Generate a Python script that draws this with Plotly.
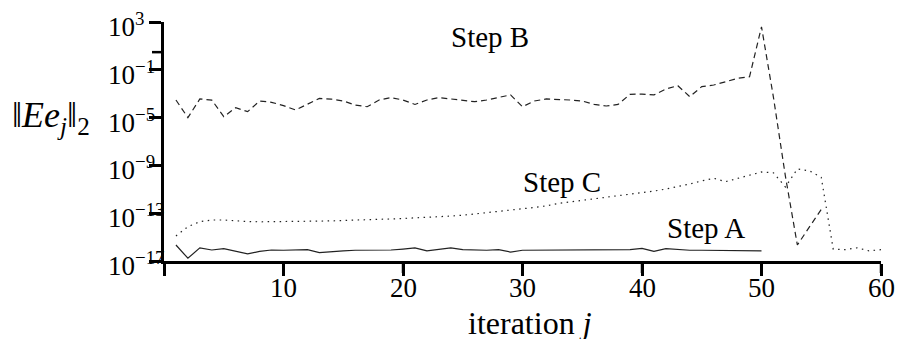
import numpy as np
import plotly.graph_objects as go

# log10 of ||E e_j||_2
step_a_j = list(range(1, 51))
step_a_log = [-15.66, -16.77, -15.90, -16.08, -15.97, -16.20, -16.40, -16.20, -16.08, -16.10,
              -16.05, -16.05, -16.30, -16.20, -16.15, -16.10, -16.10, -16.05, -16.08, -16.00,
              -15.90, -16.15, -16.05, -15.90, -16.05, -16.10, -16.10, -16.05, -16.25, -16.10,
              -16.10, -16.05, -16.10, -16.10, -16.08, -16.05, -16.10, -16.10, -16.05, -15.95,
              -16.20, -15.97, -16.05, -16.10, -16.10, -16.10, -16.10, -16.12, -16.10, -16.15]

step_b_j = list(range(1, 56))
step_b_log = [-3.53, -5.00, -3.44, -3.53, -4.92, -4.17, -4.50, -3.61, -3.72, -4.00,
              -4.36, -3.90, -3.40, -3.45, -3.61, -3.95, -4.09, -3.53, -3.33, -3.53,
              -3.90, -3.53, -3.33, -3.44, -3.53, -3.67, -3.53, -3.33, -3.10, -4.09,
              -3.61, -3.44, -3.47, -3.53, -3.61, -3.90, -4.03, -3.90, -3.05, -3.03,
              -3.10, -2.61, -2.33, -3.25, -2.41, -2.27, -2.00, -1.71, -1.58, 2.60,
              -3.30, -9.90, -15.66, -14.13, -12.68]

step_c_j = list(range(1, 61))
step_c_log = [-14.90, -14.13, -13.71, -13.57, -13.57, -13.65, -13.70, -13.72, -13.72, -13.72,
              -13.70, -13.68, -13.66, -13.64, -13.62, -13.59, -13.56, -13.52, -13.48, -13.44,
              -13.40, -13.35, -13.30, -13.24, -13.17, -13.07, -12.98, -12.88, -12.77, -12.65,
              -12.52, -12.38, -12.18, -12.05, -11.92, -11.80, -11.68, -11.56, -11.44, -11.30,
              -11.15, -10.98, -10.78, -10.55, -10.30, -10.08, -10.36, -10.10, -9.80, -9.55,
              -9.62, -10.80, -9.30, -9.45, -10.00, -16.00, -16.05, -15.90, -16.15, -16.05]

x_tick_vals = [0, 10, 20, 30, 40, 50, 60]
x_tick_text = ["", "10", "20", "30", "40", "50", "60"]
y_tick_exp = [3, -1, -5, -9, -13, -17]

FONT = "Liberation Serif"
FS = 29
TFS = 27
PLOT_W = 899 - 164 - 18
PLOT_H = 339 - 22 - 78
TICK = 12

fig = go.Figure()
fig.add_trace(go.Scatter(x=step_a_j, y=10.0 ** np.array(step_a_log), mode="lines",
                         line=dict(color="#222", width=1.2), name="Step A"))
fig.add_trace(go.Scatter(x=step_b_j, y=10.0 ** np.array(step_b_log), mode="lines",
                         line=dict(color="#222", width=1.2, dash="6px,4px"), name="Step B"))
fig.add_trace(go.Scatter(x=step_c_j, y=10.0 ** np.array(step_c_log), mode="lines",
                         line=dict(color="#222", width=1.2, dash="1.5px,4.5px"), name="Step C"))

annots = []
shapes = []
# x tick labels and tick marks
for v, t in zip(x_tick_vals, x_tick_text):
    shapes.append(dict(type="line", xref="x", yref="paper", x0=v, x1=v,
                       y0=0, y1=-TICK / PLOT_H, line=dict(color="black", width=2.5)))
    if t:
        annots.append(dict(text=t, x=v, y=-0.111, xref="x", yref="paper",
                           xanchor="center", yanchor="middle", showarrow=False,
                           font=dict(family=FONT, size=TFS)))
# y tick labels and tick marks
for e in y_tick_exp:
    shapes.append(dict(type="line", xref="paper", yref="y", x0=0, x1=-TICK / PLOT_W,
                       y0=e, y1=e, line=dict(color="black", width=2.5)))
    annots.append(dict(text="10<sup>%s</sup>" % str(e).replace("-", "\u2212"),
                       x=-0.0809, y=e, xref="paper", yref="y",
                       xanchor="left", yanchor="middle", yshift=-3, showarrow=False,
                       font=dict(family=FONT, size=TFS)))

annots += [
    dict(text="Step B", x=27.3, y=1.72, xref="x", yref="y", showarrow=False,
         font=dict(family=FONT, size=FS)),
    dict(text="Step C", x=33.3, y=-10.39, xref="x", yref="y", showarrow=False,
         font=dict(family=FONT, size=FS)),
    dict(text="Step A", x=45.35, y=-14.24, xref="x", yref="y", showarrow=False,
         font=dict(family=FONT, size=FS)),
    dict(text="iteration <i>j</i>", x=0.51, y=-0.259, xref="paper", yref="paper",
         yanchor="middle", showarrow=False, font=dict(family=FONT, size=32)),
    dict(text="\u2016<i>Ee</i><sub><i>j</i></sub>\u2016<sub>2</sub>", x=-0.215, y=0.6025,
         xref="paper", yref="paper", xanchor="left", yanchor="middle", showarrow=False,
         font=dict(family=FONT, size=36)),
]

fig.update_layout(
    width=899, height=339,
    margin=dict(l=164, r=18, t=22, b=78),
    plot_bgcolor="white", paper_bgcolor="white",
    showlegend=False,
    font=dict(family=FONT, size=FS, color="black"),
    xaxis=dict(range=[0, 60], tickvals=x_tick_vals, showticklabels=False,
               showline=True, linecolor="black", linewidth=2.5,
               ticks="outside", ticklen=TICK, tickwidth=2.5, tickcolor="black",
               showgrid=False, zeroline=False, automargin=False),
    yaxis=dict(type="log", range=[-17, 3], tickvals=[10.0 ** e for e in y_tick_exp],
               showticklabels=False, showline=True, linecolor="black", linewidth=2.5,
               ticks="outside", ticklen=TICK, tickwidth=2.5, tickcolor="black",
               showgrid=False, zeroline=False, automargin=False),
    annotations=annots,
    shapes=shapes,
)

fig.write_html("out.html", post_script="document.body.style.margin='0';",
               config={"displayModeBar": False})
